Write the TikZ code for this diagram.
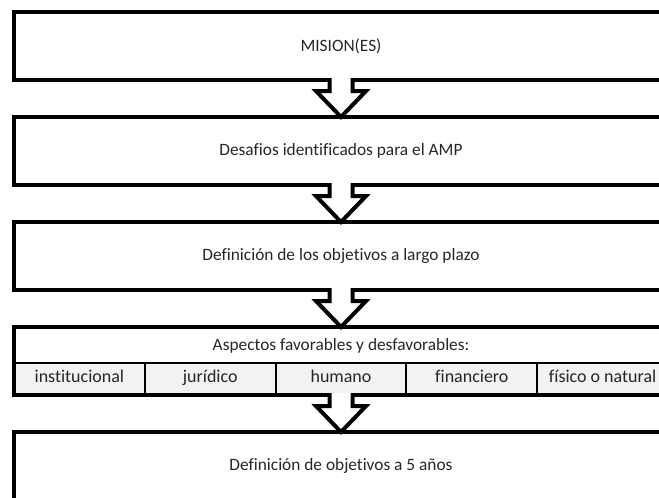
\documentclass[tikz,border=0pt]{standalone}
\usepackage{fontspec}
\setmainfont{Carlito}[Ligatures=NoCommon]
\usetikzlibrary{positioning,backgrounds}

\begin{document}
\begin{tikzpicture}[x=0.75pt, y=-0.75pt, node distance=27.75pt,
		etapa/.style={draw, line width=3pt, outer sep=0pt, minimum width=490.5pt, minimum height=51pt, font=\fontsize{13}{15}\selectfont, text=black!85},
		celda/.style={draw, line width=1.5pt, outer sep=0pt, inner sep=0pt, fill=gray!10, minimum width=98.1pt, minimum height=24pt, text height=1.6ex, text depth=.45ex, font=\fontsize{13.5}{15}\selectfont, text=black!85},
		flecha/.style={draw, fill=white, line width=3pt, to path={
			([shift={(-11.5,-2)}]\tikztostart.south) -- ([shift={(-11.5,11)}]\tikztostart.south)
			-- ([shift={(-25,11)}]\tikztostart.south) -- (\tikztotarget.north)
			-- ([shift={(25,11)}]\tikztostart.south) -- ([shift={(11.5,11)}]\tikztostart.south)
			-- ([shift={(11.5,-2)}]\tikztostart.south)}}]
				\useasboundingbox (0,0) rectangle (659,497);

				% Boxes
				\node[etapa] (mision) at (341,46) {MISION(ES)};
				\node[etapa, below=of mision] (desafios) {Desafios identificados para el AMP};
				\node[etapa, below=of desafios] (largo) {Definición de los objetivos a largo plazo};
				\node[etapa, below=of largo] (aspectos) {};
				\node[etapa, below=of aspectos] (cinco) {Definición de objetivos a 5 años};

				% Aspects row
				\node[font=\fontsize{13}{15}\selectfont, text=black!85] (titulo) at ([shift={(0,19)}]aspectos.north) {Aspectos favorables y desfavorables:};
				\begin{scope}[on background layer]
					\node[celda, anchor=south west] (c1) at (aspectos.south west) {institucional};
					\node[celda, right=0pt of c1] (c2) {jurídico};
					\node[celda, right=0pt of c2] (c3) {humano};
					\node[celda, right=0pt of c3] (c4) {financiero};
					\node[celda, right=0pt of c4] (c5) {físico o natural};
				\end{scope}

				% Arrows
				\draw[flecha] (mision) to (desafios);
				\draw[flecha] (desafios) to (largo);
				\draw[flecha] (largo) to (aspectos);
				\draw[flecha] (aspectos) to (cinco);
			\end{tikzpicture}
\end{document}
